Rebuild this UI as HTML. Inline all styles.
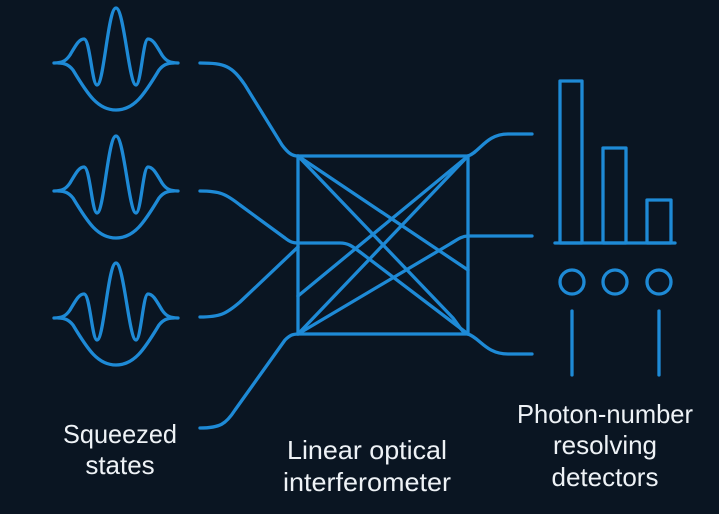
<!DOCTYPE html>
<html><head><meta charset="utf-8"><style>
html,body{margin:0;padding:0;background:#0a1522;}
svg{display:block}
</style></head><body>
<svg width="719" height="514" viewBox="0 0 719 514" xmlns="http://www.w3.org/2000/svg">
<rect width="719" height="514" fill="#0a1522"/>
<defs>
<g id="wave" fill="none" stroke="#1e8ad6" stroke-width="3.3" stroke-linecap="round" stroke-linejoin="round">
<path d="M54,0 C62,0 66,-2 70,-8 C76,-18 79,-24 84,-24 C90,-24 92,22 97,22 C104,22 108,-55 116,-55 C124,-55 129,22 136,22 C141,22 143,-24 148,-24 C153,-24 156,-18 162,-8 C166,-2 170,0 178,0"/>
<path d="M58,0 C65,0 69,2 73,7 C88,32 98,47 116,47 C134,47 144,32 159,7 C163,2 167,0 174,0"/>
</g>
</defs>
<use href="#wave" transform="translate(0,63)"/>
<use href="#wave" transform="translate(0,191)"/>
<use href="#wave" transform="translate(0,318)"/>
<g fill="none" stroke="#1e8ad6" stroke-width="3.3" stroke-linecap="round" stroke-linejoin="round">
<path d="M200,63 C225,63 232,66 245,85 L282,145 C288,153 292,156 298,156"/>
<path d="M200,191 C220,191 226,194 240,205 L285,238 C290,242 293,243 298,243"/>
<path d="M200,317 C220,317 226,314 240,302 L298,247"/>
<path d="M200,428 C220,428 226,424 235,410 L285,340 C290,335 293,334 298,334"/>
<rect x="298" y="156" width="170" height="178"/>
<path d="M298,156 L453,318 C460,327 463,334 468,334"/>
<path d="M298,156 L468,270"/>
<path d="M298,334 L468,156"/>
<path d="M298,296 L468,156"/>
<path d="M298,334 L450,244 C458,239 462,236 468,236 L532,236"/>
<path d="M298,243 L340,243 C348,243 352,246 360,252 L468,334"/>
<path d="M468,156 C480,152 486,134 508,134 L532,134"/>
<path d="M468,334 C480,338 486,354 508,354 L532,354"/>
<rect x="560" y="81" width="22" height="162"/>
<rect x="603" y="148" width="23" height="95"/>
<rect x="647" y="200" width="24" height="43"/>
<line x1="555" y1="243" x2="675" y2="243"/>
<circle cx="572" cy="282" r="12"/>
<circle cx="615" cy="282" r="12"/>
<circle cx="659" cy="282" r="12"/>
<line x1="572" y1="311" x2="572" y2="375"/>
<line x1="659" y1="311" x2="659" y2="375"/>
</g>
<g fill="#eef2f6" font-family="Liberation Sans, sans-serif" font-size="26" text-anchor="middle">
<text x="120" y="443" textLength="114" lengthAdjust="spacingAndGlyphs">Squeezed</text>
<text x="120" y="474">states</text>
<text x="367" y="459" textLength="160" lengthAdjust="spacingAndGlyphs">Linear optical</text>
<text x="367" y="491" textLength="168" lengthAdjust="spacingAndGlyphs">interferometer</text>
<text x="605" y="423" textLength="176" lengthAdjust="spacingAndGlyphs">Photon-number</text>
<text x="605" y="454">resolving</text>
<text x="605" y="486">detectors</text>
</g>
</svg>
</body></html>
